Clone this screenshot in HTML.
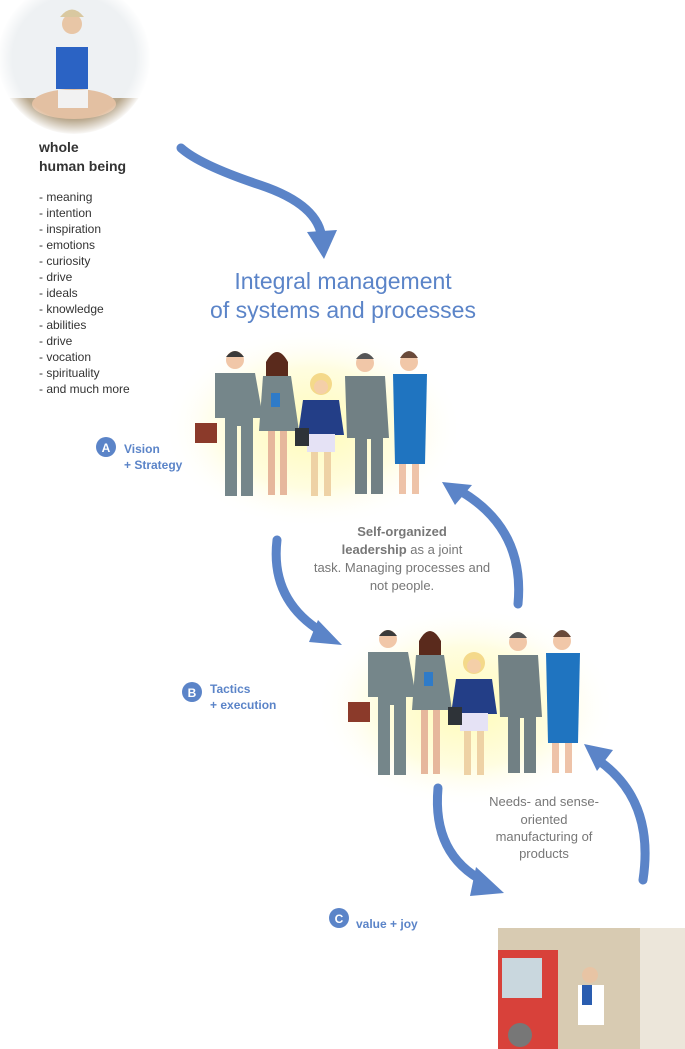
<!DOCTYPE html>
<html><head><meta charset="utf-8"><style>
body{margin:0;width:685px;height:1049px;background:#fff;overflow:hidden;font-family:"Lato","Liberation Sans",sans-serif}
svg{position:absolute;left:0;top:0}
</style></head><body>
<svg width="685" height="1049" viewBox="0 0 685 1049" font-family="Liberation Sans, sans-serif">
<defs>
<radialGradient id="glow"><stop offset="0" stop-color="#fffbb8"/><stop offset="0.6" stop-color="#fffde0"/><stop offset="1" stop-color="#fff" stop-opacity="0"/></radialGradient>
<radialGradient id="ph" cx="0.5" cy="0.5" r="0.5"><stop offset="0.8" stop-color="#fff" stop-opacity="0"/><stop offset="1" stop-color="#fff" stop-opacity="1"/></radialGradient>
<g id="grp">
<ellipse cx="120" cy="80" rx="150" ry="100" fill="url(#glow)"/>
<!-- man1 -->
<circle cx="42" cy="12" r="9" fill="#f1c7a8"/><path d="M33 9 q9 -12 18 0z" fill="#3a3a3a"/>
<path d="M22 25 h40 l8 45 h-10 v78 h-12 v-70 h-4 v70 h-12 v-78 h-10z" fill="#75868a"/>
<rect x="2" y="75" width="22" height="20" fill="#8b3a2a"/>
<!-- woman2 -->
<circle cx="84" cy="15" r="9" fill="#f1c7a8"/><path d="M73 14 q11 -20 22 0 v14 h-22z" fill="#5a2a1c"/>
<path d="M70 28 h28 l8 55 h-40z" fill="#75868a"/><rect x="75" y="83" width="7" height="64" fill="#e6b79c"/><rect x="87" y="83" width="7" height="64" fill="#e6b79c"/>
<rect x="78" y="45" width="9" height="14" fill="#2f7bc8"/>
<!-- blonde -->
<circle cx="128" cy="36" r="11" fill="#f4d98a"/><circle cx="128" cy="39" r="7" fill="#f4cfa8"/>
<path d="M110 52 h36 l5 35 h-46z" fill="#233e87"/><rect x="114" y="86" width="28" height="18" fill="#e5e2f5"/>
<rect x="118" y="104" width="7" height="44" fill="#eed2a5"/><rect x="131" y="104" width="7" height="44" fill="#eed2a5"/>
<rect x="102" y="80" width="14" height="18" fill="#2e3338"/>
<!-- man4 -->
<circle cx="172" cy="15" r="9" fill="#f1c7a8"/><path d="M163 11 q9 -12 18 0z" fill="#555"/>
<path d="M152 28 h40 l4 62 h-6 v56 h-12 v-55 h-4 v55 h-12 v-56 h-8z" fill="#718084"/>
<!-- woman5 -->
<circle cx="216" cy="14" r="9" fill="#f1c7a8"/><path d="M207 10 q9 -14 18 0z" fill="#6a4a3a"/>
<path d="M200 26 h34 l-2 90 h-30z" fill="#1f74c0"/><rect x="206" y="116" width="7" height="30" fill="#eec3a8"/><rect x="219" y="116" width="7" height="30" fill="#eec3a8"/>
</g>
</defs>

<!-- photo circle -->
<clipPath id="cc"><circle cx="74" cy="58" r="76"/></clipPath>
<g clip-path="url(#cc)">
<rect x="0" y="0" width="150" height="135" fill="#eef1f3"/>
<rect x="0" y="98" width="150" height="40" fill="#b8a78c"/>
<circle cx="72" cy="24" r="10" fill="#e8c6a6"/><path d="M60 17 q12 -15 24 0z" fill="#d9c8a0"/>
<rect x="56" y="47" width="32" height="42" fill="#2b63c4"/>
<ellipse cx="74" cy="104" rx="42" ry="15" fill="#e3c0a2"/><rect x="58" y="90" width="30" height="18" fill="#f2f2f2"/>
</g>
<circle cx="74" cy="58" r="77" fill="url(#ph)"/>

<text x="39" y="152" font-size="14" font-weight="bold" fill="#333">whole</text>
<text x="39" y="171" font-size="14" font-weight="bold" fill="#333">human being</text>
<g font-size="12" fill="#333">
<text x="39" y="201">- meaning</text><text x="39" y="217">- intention</text><text x="39" y="233">- inspiration</text><text x="39" y="249">- emotions</text><text x="39" y="265">- curiosity</text><text x="39" y="281">- drive</text><text x="39" y="297">- ideals</text><text x="39" y="313">- knowledge</text><text x="39" y="329">- abilities</text><text x="39" y="345">- drive</text><text x="39" y="361">- vocation</text><text x="39" y="377">- spirituality</text><text x="39" y="393">- and much more</text>
</g>

<g font-size="23" fill="#5b84c8" text-anchor="middle">
<text x="343" y="289">Integral management</text><text x="343" y="318">of systems and processes</text>
</g>

<use href="#grp" x="193" y="348"/>
<use href="#grp" x="346" y="627"/>

<!-- arrows -->
<g fill="none" stroke="#5b84c8" stroke-width="9" stroke-linecap="round">
<path d="M181 148 Q200 165 260 185 Q320 205 322 240"/>
<path d="M277 540 Q270 600 322 632"/>
<path d="M518 604 Q525 530 462 492"/>
<path d="M438 788 Q432 855 485 882"/>
<path d="M643 880 Q655 800 598 760"/>
</g>
<g fill="#5b84c8">
<polygon points="307,232 337,230 324,259"/>
<polygon points="318,620 342,645 309,642"/>
<polygon points="442,482 472,485 455,505"/>
<polygon points="476,867 504,893 470,896"/>
<polygon points="584,744 613,750 597,771"/>
</g>

<g font-size="13" fill="#777" text-anchor="middle">
<text x="402" y="536"><tspan font-weight="bold">Self-organized</tspan></text>
<text x="402" y="554"><tspan font-weight="bold">leadership</tspan> as a joint</text>
<text x="402" y="572">task. Managing processes and</text>
<text x="402" y="590">not people.</text>
<text x="544" y="806">Needs- and sense-</text>
<text x="544" y="824">oriented</text>
<text x="544" y="841">manufacturing of</text>
<text x="544" y="858">products</text>
</g>

<g font-size="12" font-weight="bold" fill="#5b84c8">
<circle cx="106" cy="447" r="10"/><text x="106" y="452" fill="#fff" text-anchor="middle">A</text>
<text x="124" y="453">Vision</text><text x="124" y="469">+ Strategy</text>
<circle cx="192" cy="692" r="10"/><text x="192" y="697" fill="#fff" text-anchor="middle">B</text>
<text x="210" y="693">Tactics</text><text x="210" y="709">+ execution</text>
<circle cx="339" cy="918" r="10"/><text x="339" y="923" fill="#fff" text-anchor="middle">C</text>
<text x="356" y="928">value + joy</text>
</g>

<!-- bottom photo -->
<rect x="498" y="928" width="187" height="121" fill="#d8cbb2"/>
<rect x="640" y="928" width="45" height="121" fill="#ece6da"/>
<rect x="498" y="950" width="60" height="99" fill="#d8413a"/>
<rect x="502" y="958" width="40" height="40" fill="#c9d7de"/>
<circle cx="590" cy="975" r="8" fill="#e8c4a4"/>
<rect x="578" y="985" width="26" height="40" fill="#fff"/>
<rect x="582" y="985" width="10" height="20" fill="#2a5db0"/>
<circle cx="520" cy="1035" r="12" fill="#777"/>
</svg>
</body></html>
